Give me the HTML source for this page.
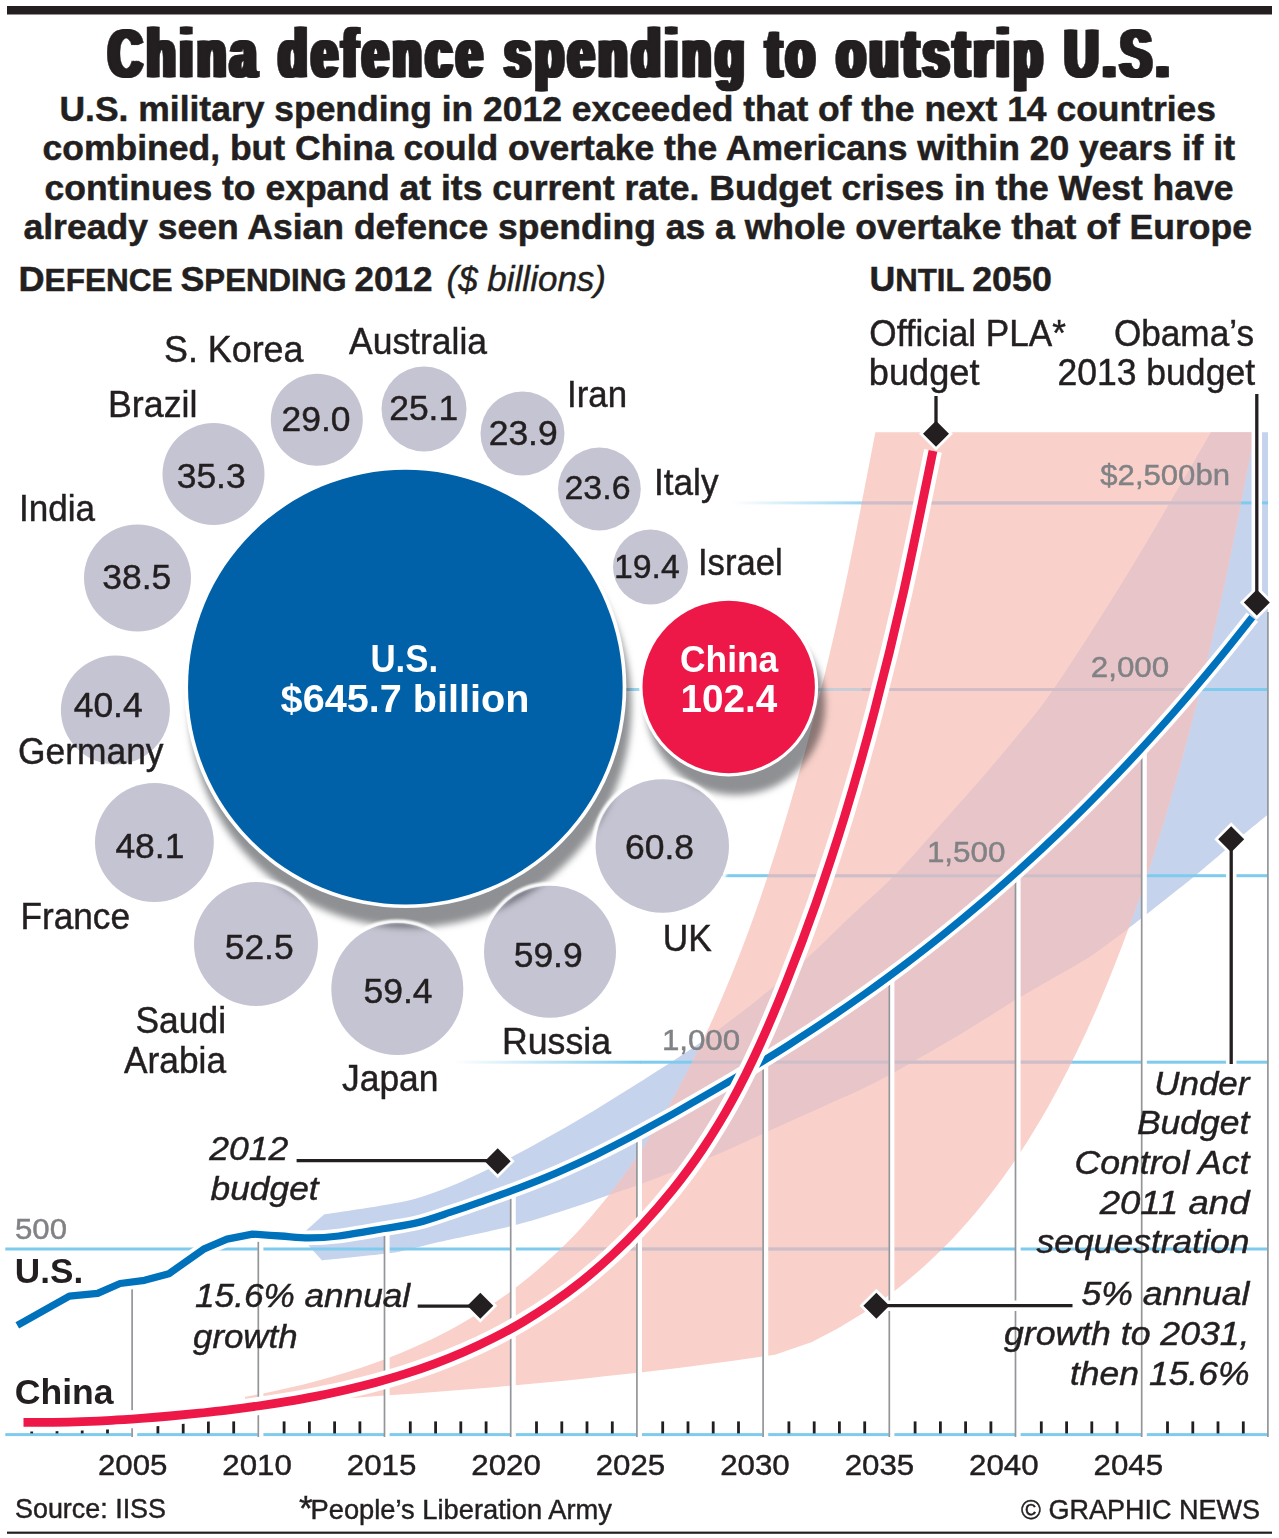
<!DOCTYPE html>
<html><head><meta charset="utf-8"><title>China defence spending to outstrip U.S.</title>
<style>html,body{margin:0;padding:0;background:#fff}svg{display:block}text{font-family:"Liberation Sans",sans-serif}</style>
</head><body>
<svg xmlns="http://www.w3.org/2000/svg" width="1279" height="1538" viewBox="0 0 1279 1538">
<defs>
<linearGradient id="fade" x1="0" x2="1" y1="0" y2="0"><stop offset="0" stop-color="#7fcbee" stop-opacity="0"/><stop offset="1" stop-color="#7fcbee" stop-opacity="1"/></linearGradient>
<clipPath id="cpk"><path d="M245,1396.8C249.8,1395.9 264.1,1393.2 273.7,1391.2C283.2,1389.2 292.8,1387 302.3,1384.7C311.9,1382.4 321.4,1379.9 331,1377.1C340.5,1374.4 350.1,1371.5 359.6,1368.3C369.2,1365.1 378.7,1361.8 388.3,1358.1C397.8,1354.4 407.4,1350.4 416.9,1346.1C426.5,1341.8 436,1337.2 445.6,1332.2C455.1,1327.2 464.7,1321.9 474.2,1316C483.8,1310.1 493.3,1303.9 502.9,1297.1C512.4,1290.3 522,1283 531.5,1275C541.1,1267.1 550.6,1258.6 560.2,1249.3C569.8,1240 579.3,1230.1 588.9,1219.2C598.4,1208.4 608,1196.8 617.5,1184.1C627.1,1171.5 636.6,1158 646.2,1143.1C655.7,1128.3 665.3,1112.5 674.8,1095.2C684.4,1077.8 693.9,1059.4 703.5,1039.1C713,1018.8 722.6,997.2 732.1,973.5C741.7,949.8 751.2,924.5 760.8,896.7C770.3,868.9 779.9,839.3 789.4,806.8C799,774.2 808.5,739.6 818.1,701.5C827.6,663.3 837.2,622.9 846.7,578C856.3,533.2 870.6,456.6 875.4,432.3L1254.8,432.3C1249.9,457 1235.1,534.6 1225.3,580.3C1215.4,626 1205.6,667.6 1195.8,706.6C1185.9,745.5 1176.1,780.9 1166.2,814.1C1156.4,847.3 1146.6,877.4 1136.7,905.7C1126.9,933.9 1117,959.6 1107.2,983.7C1097.4,1007.8 1087.5,1029.6 1077.7,1050.1C1067.8,1070.6 1058,1089.3 1048.2,1106.7C1038.3,1124.2 1028.5,1140.1 1018.6,1155C1008.8,1169.8 999,1183.3 989.1,1196C979.3,1208.7 969.4,1220.2 959.6,1231C949.8,1241.8 939.9,1251.6 930.1,1260.8C920.2,1270 910.4,1278.3 900.6,1286.2C890.7,1294 880.9,1301.1 871,1307.8C861.2,1314.5 851.4,1320.5 841.5,1326.2C831.7,1331.9 816.9,1339.3 812,1341.9L775,1354.7C768.7,1355.6 749.8,1358.4 737.1,1360.2C724.5,1361.9 711.9,1363.6 699.3,1365.2C686.7,1366.9 674,1368.4 661.4,1369.9C648.8,1371.5 636.2,1372.9 623.6,1374.3C611,1375.7 598.3,1377.1 585.7,1378.4C573.1,1379.7 560.5,1381 547.9,1382.2C535.2,1383.4 522.6,1384.6 510,1385.7C497.4,1386.8 484.8,1387.9 472.1,1389C459.5,1390 446.9,1391 434.3,1392C421.7,1393 409,1393.9 396.4,1394.8C383.8,1395.7 371.2,1396.6 358.6,1397.4C346,1398.3 333.3,1399.1 320.7,1399.9C308.1,1400.7 295.5,1401.4 282.9,1402.1C270.2,1402.9 251.3,1403.9 245,1404.3Z"/></clipPath>
<clipPath id="cbb"><path d="M300,1236L324,1214.4L324,1214.4C334.1,1212.8 367.9,1208.1 384.8,1205C401.7,1201.9 408.8,1201.2 425.2,1195.7C441.6,1190.2 459.4,1183.2 483,1171.7C506.6,1160.2 541.2,1141.2 566.7,1126.7C592.2,1112.2 615,1097.6 636,1084.5C657,1071.4 676.2,1059.1 692.5,1048C708.8,1036.9 720.2,1028.4 734,1018C747.8,1007.6 762.4,995.8 775,985.5C787.6,975.2 797,967.4 809.5,956C822,944.6 835.7,930.6 850,917C864.3,903.4 880.2,890.1 895.4,874.6C910.6,859.1 926.9,839.8 941,824C955.1,808.2 968.1,793.8 980.1,780C992.1,766.2 1000.9,756 1013,741C1025.2,726 1035.2,715.7 1053,690C1070.8,664.3 1100.2,617.9 1119.7,586.7C1139.2,555.5 1154.5,528.7 1169.7,503C1184.9,477.3 1204.1,444.1 1211,432.3L1268,432.3L1268,814.5C1263.3,818.3 1251.9,827.5 1240,837.5C1228.1,847.5 1207.5,865.5 1196.6,874.6C1185.7,883.7 1190.9,879.5 1174.8,892C1158.7,904.5 1120.8,935.1 1100,949.8C1079.2,964.5 1064.3,971.5 1050,980C1035.7,988.5 1029.4,991.5 1014.4,1000.6C999.4,1009.7 982.4,1021.2 960,1034.4C937.6,1047.6 902.1,1068.3 880,1080C857.9,1091.7 845.7,1096.2 827.6,1104.5C809.5,1112.8 790.2,1121.3 771.4,1129.8C752.6,1138.2 736.9,1146.1 715,1155.2C693.1,1164.3 657.7,1177.6 640,1184.2C622.3,1190.8 620.3,1191 608.9,1195C597.5,1199 586.9,1203 571.4,1208C555.9,1213 537.5,1219.4 515.6,1225C493.7,1230.6 458.2,1237.6 440,1241.8C421.8,1246 415.6,1248 406.4,1250C397.2,1252 398.9,1252.1 384.8,1253.8C370.7,1255.5 332.5,1259.3 322,1260.4L300,1236Z"/></clipPath>
<filter id="sh" x="-20%" y="-20%" width="150%" height="150%"><feGaussianBlur stdDeviation="3.8"/></filter>
<filter id="halo" x="-10%" y="-10%" width="120%" height="120%"><feGaussianBlur stdDeviation="0.9"/></filter>
</defs>
<rect width="1279" height="1538" fill="#fff"/>
<g fill="#231f20">
<rect x="7" y="6" width="1265" height="8.5" fill="#231f20"/>
<rect x="7" y="1531.6" width="1265" height="2.2" fill="#231f20"/>
<path d="M300,1236L324,1214.4L324,1214.4C334.1,1212.8 367.9,1208.1 384.8,1205C401.7,1201.9 408.8,1201.2 425.2,1195.7C441.6,1190.2 459.4,1183.2 483,1171.7C506.6,1160.2 541.2,1141.2 566.7,1126.7C592.2,1112.2 615,1097.6 636,1084.5C657,1071.4 676.2,1059.1 692.5,1048C708.8,1036.9 720.2,1028.4 734,1018C747.8,1007.6 762.4,995.8 775,985.5C787.6,975.2 797,967.4 809.5,956C822,944.6 835.7,930.6 850,917C864.3,903.4 880.2,890.1 895.4,874.6C910.6,859.1 926.9,839.8 941,824C955.1,808.2 968.1,793.8 980.1,780C992.1,766.2 1000.9,756 1013,741C1025.2,726 1035.2,715.7 1053,690C1070.8,664.3 1100.2,617.9 1119.7,586.7C1139.2,555.5 1154.5,528.7 1169.7,503C1184.9,477.3 1204.1,444.1 1211,432.3L1268,432.3L1268,814.5C1263.3,818.3 1251.9,827.5 1240,837.5C1228.1,847.5 1207.5,865.5 1196.6,874.6C1185.7,883.7 1190.9,879.5 1174.8,892C1158.7,904.5 1120.8,935.1 1100,949.8C1079.2,964.5 1064.3,971.5 1050,980C1035.7,988.5 1029.4,991.5 1014.4,1000.6C999.4,1009.7 982.4,1021.2 960,1034.4C937.6,1047.6 902.1,1068.3 880,1080C857.9,1091.7 845.7,1096.2 827.6,1104.5C809.5,1112.8 790.2,1121.3 771.4,1129.8C752.6,1138.2 736.9,1146.1 715,1155.2C693.1,1164.3 657.7,1177.6 640,1184.2C622.3,1190.8 620.3,1191 608.9,1195C597.5,1199 586.9,1203 571.4,1208C555.9,1213 537.5,1219.4 515.6,1225C493.7,1230.6 458.2,1237.6 440,1241.8C421.8,1246 415.6,1248 406.4,1250C397.2,1252 398.9,1252.1 384.8,1253.8C370.7,1255.5 332.5,1259.3 322,1260.4L300,1236Z" fill="#c6d3ec"/>
<path d="M245,1396.8C249.8,1395.9 264.1,1393.2 273.7,1391.2C283.2,1389.2 292.8,1387 302.3,1384.7C311.9,1382.4 321.4,1379.9 331,1377.1C340.5,1374.4 350.1,1371.5 359.6,1368.3C369.2,1365.1 378.7,1361.8 388.3,1358.1C397.8,1354.4 407.4,1350.4 416.9,1346.1C426.5,1341.8 436,1337.2 445.6,1332.2C455.1,1327.2 464.7,1321.9 474.2,1316C483.8,1310.1 493.3,1303.9 502.9,1297.1C512.4,1290.3 522,1283 531.5,1275C541.1,1267.1 550.6,1258.6 560.2,1249.3C569.8,1240 579.3,1230.1 588.9,1219.2C598.4,1208.4 608,1196.8 617.5,1184.1C627.1,1171.5 636.6,1158 646.2,1143.1C655.7,1128.3 665.3,1112.5 674.8,1095.2C684.4,1077.8 693.9,1059.4 703.5,1039.1C713,1018.8 722.6,997.2 732.1,973.5C741.7,949.8 751.2,924.5 760.8,896.7C770.3,868.9 779.9,839.3 789.4,806.8C799,774.2 808.5,739.6 818.1,701.5C827.6,663.3 837.2,622.9 846.7,578C856.3,533.2 870.6,456.6 875.4,432.3L1254.8,432.3C1249.9,457 1235.1,534.6 1225.3,580.3C1215.4,626 1205.6,667.6 1195.8,706.6C1185.9,745.5 1176.1,780.9 1166.2,814.1C1156.4,847.3 1146.6,877.4 1136.7,905.7C1126.9,933.9 1117,959.6 1107.2,983.7C1097.4,1007.8 1087.5,1029.6 1077.7,1050.1C1067.8,1070.6 1058,1089.3 1048.2,1106.7C1038.3,1124.2 1028.5,1140.1 1018.6,1155C1008.8,1169.8 999,1183.3 989.1,1196C979.3,1208.7 969.4,1220.2 959.6,1231C949.8,1241.8 939.9,1251.6 930.1,1260.8C920.2,1270 910.4,1278.3 900.6,1286.2C890.7,1294 880.9,1301.1 871,1307.8C861.2,1314.5 851.4,1320.5 841.5,1326.2C831.7,1331.9 816.9,1339.3 812,1341.9L775,1354.7C768.7,1355.6 749.8,1358.4 737.1,1360.2C724.5,1361.9 711.9,1363.6 699.3,1365.2C686.7,1366.9 674,1368.4 661.4,1369.9C648.8,1371.5 636.2,1372.9 623.6,1374.3C611,1375.7 598.3,1377.1 585.7,1378.4C573.1,1379.7 560.5,1381 547.9,1382.2C535.2,1383.4 522.6,1384.6 510,1385.7C497.4,1386.8 484.8,1387.9 472.1,1389C459.5,1390 446.9,1391 434.3,1392C421.7,1393 409,1393.9 396.4,1394.8C383.8,1395.7 371.2,1396.6 358.6,1397.4C346,1398.3 333.3,1399.1 320.7,1399.9C308.1,1400.7 295.5,1401.4 282.9,1402.1C270.2,1402.9 251.3,1403.9 245,1404.3Z" fill="#f9d1ca"/>
<path d="M300,1236L324,1214.4L324,1214.4C334.1,1212.8 367.9,1208.1 384.8,1205C401.7,1201.9 408.8,1201.2 425.2,1195.7C441.6,1190.2 459.4,1183.2 483,1171.7C506.6,1160.2 541.2,1141.2 566.7,1126.7C592.2,1112.2 615,1097.6 636,1084.5C657,1071.4 676.2,1059.1 692.5,1048C708.8,1036.9 720.2,1028.4 734,1018C747.8,1007.6 762.4,995.8 775,985.5C787.6,975.2 797,967.4 809.5,956C822,944.6 835.7,930.6 850,917C864.3,903.4 880.2,890.1 895.4,874.6C910.6,859.1 926.9,839.8 941,824C955.1,808.2 968.1,793.8 980.1,780C992.1,766.2 1000.9,756 1013,741C1025.2,726 1035.2,715.7 1053,690C1070.8,664.3 1100.2,617.9 1119.7,586.7C1139.2,555.5 1154.5,528.7 1169.7,503C1184.9,477.3 1204.1,444.1 1211,432.3L1268,432.3L1268,814.5C1263.3,818.3 1251.9,827.5 1240,837.5C1228.1,847.5 1207.5,865.5 1196.6,874.6C1185.7,883.7 1190.9,879.5 1174.8,892C1158.7,904.5 1120.8,935.1 1100,949.8C1079.2,964.5 1064.3,971.5 1050,980C1035.7,988.5 1029.4,991.5 1014.4,1000.6C999.4,1009.7 982.4,1021.2 960,1034.4C937.6,1047.6 902.1,1068.3 880,1080C857.9,1091.7 845.7,1096.2 827.6,1104.5C809.5,1112.8 790.2,1121.3 771.4,1129.8C752.6,1138.2 736.9,1146.1 715,1155.2C693.1,1164.3 657.7,1177.6 640,1184.2C622.3,1190.8 620.3,1191 608.9,1195C597.5,1199 586.9,1203 571.4,1208C555.9,1213 537.5,1219.4 515.6,1225C493.7,1230.6 458.2,1237.6 440,1241.8C421.8,1246 415.6,1248 406.4,1250C397.2,1252 398.9,1252.1 384.8,1253.8C370.7,1255.5 332.5,1259.3 322,1260.4L300,1236Z" fill="#e8c5c9" clip-path="url(#cpk)"/>
<g fill="#7fcbee"><rect x="5.3" y="1247.5" width="1262.7" height="3"/><rect x="640" y="1060.7" width="628" height="3"/><rect x="722" y="874.2" width="546" height="3"/><rect x="862" y="688" width="406" height="3"/><rect x="900" y="501.4" width="368" height="3"/></g>
<rect x="600" y="688" width="50" height="3" fill="#7fcbee" opacity="0.75"/>
<rect x="800" y="688" width="63" height="3" fill="#7fcbee" opacity="0.4"/>
<rect x="453" y="1060.7" width="187.5" height="3" fill="url(#fade)"/>
<rect x="732" y="501.4" width="168.5" height="3" fill="url(#fade)"/>
<g clip-path="url(#cpk)"><g fill="#f9d1ca"><rect x="5.3" y="1247.5" width="1262.7" height="3"/><rect x="453" y="1060.7" width="815" height="3"/><rect x="722" y="874.2" width="546" height="3"/><rect x="862" y="688" width="406" height="3"/><rect x="732" y="501.4" width="536" height="3"/></g><g fill="#d2bdc6"><rect x="5.3" y="1247.5" width="1262.7" height="3"/><rect x="453" y="1060.7" width="815" height="3"/><rect x="722" y="874.2" width="546" height="3"/><rect x="862" y="688" width="406" height="3"/><rect x="732" y="501.4" width="536" height="3"/></g></g>
<rect x="5.3" y="1433.1" width="1264" height="3" fill="#7fcbee"/>
<g stroke="#231f20" stroke-width="2.8"><line x1="31.7" x2="31.7" y1="1421.4" y2="1433.4"/><line x1="57" x2="57" y1="1421.4" y2="1433.4"/><line x1="82.2" x2="82.2" y1="1421.4" y2="1433.4"/><line x1="107.5" x2="107.5" y1="1421.4" y2="1433.4"/><line x1="157.9" x2="157.9" y1="1421.4" y2="1433.4"/><line x1="183.2" x2="183.2" y1="1421.4" y2="1433.4"/><line x1="208.4" x2="208.4" y1="1421.4" y2="1433.4"/><line x1="233.7" x2="233.7" y1="1421.4" y2="1433.4"/><line x1="284.1" x2="284.1" y1="1421.4" y2="1433.4"/><line x1="309.4" x2="309.4" y1="1421.4" y2="1433.4"/><line x1="334.6" x2="334.6" y1="1421.4" y2="1433.4"/><line x1="359.9" x2="359.9" y1="1421.4" y2="1433.4"/><line x1="410.3" x2="410.3" y1="1421.4" y2="1433.4"/><line x1="435.6" x2="435.6" y1="1421.4" y2="1433.4"/><line x1="460.8" x2="460.8" y1="1421.4" y2="1433.4"/><line x1="486.1" x2="486.1" y1="1421.4" y2="1433.4"/><line x1="536.5" x2="536.5" y1="1421.4" y2="1433.4"/><line x1="561.8" x2="561.8" y1="1421.4" y2="1433.4"/><line x1="587" x2="587" y1="1421.4" y2="1433.4"/><line x1="612.3" x2="612.3" y1="1421.4" y2="1433.4"/><line x1="662.7" x2="662.7" y1="1421.4" y2="1433.4"/><line x1="688" x2="688" y1="1421.4" y2="1433.4"/><line x1="713.2" x2="713.2" y1="1421.4" y2="1433.4"/><line x1="738.5" x2="738.5" y1="1421.4" y2="1433.4"/><line x1="788.9" x2="788.9" y1="1421.4" y2="1433.4"/><line x1="814.2" x2="814.2" y1="1421.4" y2="1433.4"/><line x1="839.4" x2="839.4" y1="1421.4" y2="1433.4"/><line x1="864.7" x2="864.7" y1="1421.4" y2="1433.4"/><line x1="915.1" x2="915.1" y1="1421.4" y2="1433.4"/><line x1="940.4" x2="940.4" y1="1421.4" y2="1433.4"/><line x1="965.6" x2="965.6" y1="1421.4" y2="1433.4"/><line x1="990.9" x2="990.9" y1="1421.4" y2="1433.4"/><line x1="1041.3" x2="1041.3" y1="1421.4" y2="1433.4"/><line x1="1066.6" x2="1066.6" y1="1421.4" y2="1433.4"/><line x1="1091.8" x2="1091.8" y1="1421.4" y2="1433.4"/><line x1="1117.1" x2="1117.1" y1="1421.4" y2="1433.4"/><line x1="1167.5" x2="1167.5" y1="1421.4" y2="1433.4"/><line x1="1192.8" x2="1192.8" y1="1421.4" y2="1433.4"/><line x1="1218" x2="1218" y1="1421.4" y2="1433.4"/><line x1="1243.3" x2="1243.3" y1="1421.4" y2="1433.4"/></g>
<line x1="134.4" x2="134.4" y1="1286.9" y2="1437" stroke="#fff" stroke-width="5.6"/><line x1="132.1" x2="132.1" y1="1286.9" y2="1437" stroke="#939598" stroke-width="1.7"/><line x1="260.6" x2="260.6" y1="1239.5" y2="1437" stroke="#fff" stroke-width="5.6"/><line x1="258.3" x2="258.3" y1="1239.5" y2="1437" stroke="#939598" stroke-width="1.7"/><line x1="386.8" x2="386.8" y1="1233.5" y2="1437" stroke="#fff" stroke-width="5.6"/><line x1="384.5" x2="384.5" y1="1233.5" y2="1437" stroke="#939598" stroke-width="1.7"/><line x1="513" x2="513" y1="1196" y2="1437" stroke="#fff" stroke-width="5.6"/><line x1="510.7" x2="510.7" y1="1196" y2="1437" stroke="#939598" stroke-width="1.7"/><line x1="639.2" x2="639.2" y1="1138.7" y2="1437" stroke="#fff" stroke-width="5.6"/><line x1="636.9" x2="636.9" y1="1138.7" y2="1437" stroke="#939598" stroke-width="1.7"/><line x1="765.4" x2="765.4" y1="1065.9" y2="1437" stroke="#fff" stroke-width="5.6"/><line x1="763.1" x2="763.1" y1="1065.9" y2="1437" stroke="#939598" stroke-width="1.7"/><line x1="891.6" x2="891.6" y1="980.8" y2="1437" stroke="#fff" stroke-width="5.6"/><line x1="889.3" x2="889.3" y1="980.8" y2="1437" stroke="#939598" stroke-width="1.7"/><line x1="1017.8" x2="1017.8" y1="878" y2="1437" stroke="#fff" stroke-width="5.6"/><line x1="1015.5" x2="1015.5" y1="878" y2="1437" stroke="#939598" stroke-width="1.7"/><line x1="1144" x2="1144" y1="753" y2="1437" stroke="#fff" stroke-width="5.6"/><line x1="1141.7" x2="1141.7" y1="753" y2="1437" stroke="#939598" stroke-width="1.7"/><line x1="1270.2" x2="1270.2" y1="612" y2="1437" stroke="#fff" stroke-width="5.6"/><line x1="1267.9" x2="1267.9" y1="612" y2="1437" stroke="#939598" stroke-width="1.7"/>
<path d="M17.3,1325.4L69.4,1296.1L97.6,1293.3L120.1,1283.5L144.5,1280.3L168.9,1273.7L203.6,1249.2L227,1239.2L252.5,1234.1L252.5,1234.1C257.2,1234.4 271.3,1235.4 280.7,1236C290.1,1236.6 299.1,1237.9 308.8,1237.9C318.5,1237.9 326.2,1237.6 338.9,1236C351.6,1234.4 371.7,1230.7 384.8,1228.5C397.9,1226.3 406.8,1225.3 417.7,1222.6C428.6,1219.9 439.6,1215.9 450,1212.4C460.4,1209 468.6,1206.2 480,1202.1C491.4,1198 505.7,1193 518.6,1188.1C531.5,1183.2 544.4,1178.1 557.2,1172.6C570.1,1167 583,1161.1 595.8,1154.9C608.7,1148.6 621.6,1141.9 634.5,1135.1C647.3,1128.2 660.2,1121.1 673.1,1113.9C685.9,1106.6 698.8,1099.2 711.7,1091.7C724.6,1084.2 737.4,1076.6 750.3,1068.8C763.2,1061 776,1053 788.9,1044.8C801.8,1036.6 814.7,1028.3 827.5,1019.6C840.4,1010.9 853.3,1002 866.1,992.9C879,983.7 891.9,974.2 904.8,964.5C917.6,954.7 930.5,944.7 943.4,934.3C956.3,924 969.1,913.4 982,902.4C994.9,891.4 1007.7,880.1 1020.6,868.5C1033.5,856.8 1046.4,844.8 1059.2,832.5C1072.1,820.1 1085,807.4 1097.8,794.3C1110.7,781.2 1123.6,767.7 1136.5,753.8C1149.3,739.9 1162.2,725.7 1175.1,710.9C1187.9,696.2 1200.8,681.1 1213.7,665.4C1226.6,649.8 1245.9,625.3 1252.3,617.2" fill="none" stroke="#fff" stroke-width="14.8" stroke-linejoin="round"/>
<path d="M17.3,1325.4L69.4,1296.1L97.6,1293.3L120.1,1283.5L144.5,1280.3L168.9,1273.7L203.6,1249.2L227,1239.2L252.5,1234.1L252.5,1234.1C257.2,1234.4 271.3,1235.4 280.7,1236C290.1,1236.6 299.1,1237.9 308.8,1237.9C318.5,1237.9 326.2,1237.6 338.9,1236C351.6,1234.4 371.7,1230.7 384.8,1228.5C397.9,1226.3 406.8,1225.3 417.7,1222.6C428.6,1219.9 439.6,1215.9 450,1212.4C460.4,1209 468.6,1206.2 480,1202.1C491.4,1198 505.7,1193 518.6,1188.1C531.5,1183.2 544.4,1178.1 557.2,1172.6C570.1,1167 583,1161.1 595.8,1154.9C608.7,1148.6 621.6,1141.9 634.5,1135.1C647.3,1128.2 660.2,1121.1 673.1,1113.9C685.9,1106.6 698.8,1099.2 711.7,1091.7C724.6,1084.2 737.4,1076.6 750.3,1068.8C763.2,1061 776,1053 788.9,1044.8C801.8,1036.6 814.7,1028.3 827.5,1019.6C840.4,1010.9 853.3,1002 866.1,992.9C879,983.7 891.9,974.2 904.8,964.5C917.6,954.7 930.5,944.7 943.4,934.3C956.3,924 969.1,913.4 982,902.4C994.9,891.4 1007.7,880.1 1020.6,868.5C1033.5,856.8 1046.4,844.8 1059.2,832.5C1072.1,820.1 1085,807.4 1097.8,794.3C1110.7,781.2 1123.6,767.7 1136.5,753.8C1149.3,739.9 1162.2,725.7 1175.1,710.9C1187.9,696.2 1200.8,681.1 1213.7,665.4C1226.6,649.8 1245.9,625.3 1252.3,617.2" fill="none" stroke="#0072bc" stroke-width="7.3" stroke-linejoin="round"/>
<path d="M23.5,1422.4C28.4,1422.4 43.1,1422.5 52.9,1422.3C62.6,1422.2 72.4,1422 82.2,1421.6C92,1421.3 101.7,1420.9 111.5,1420.3C121.3,1419.8 131.1,1419.1 140.9,1418.4C150.6,1417.7 160.4,1416.9 170.2,1416C180,1415.1 189.8,1414.2 199.5,1413.2C209.3,1412.1 219.1,1411.1 228.9,1409.9C238.7,1408.7 248.5,1407.4 258.2,1406C268,1404.6 277.8,1403.1 287.6,1401.4C297.4,1399.8 307.1,1398 316.9,1396.1C326.7,1394.1 336.5,1392.1 346.3,1389.8C356.1,1387.5 365.8,1385.1 375.6,1382.5C385.4,1379.8 395.2,1377 405,1373.9C414.8,1370.8 424.6,1367.4 434.3,1363.8C444.1,1360.2 453.9,1356.3 463.7,1352C473.5,1347.8 483.3,1343.2 493.1,1338.2C503,1333.2 512.8,1327.9 522.6,1322.1C532.4,1316.3 542.3,1310 552.2,1303.2C562,1296.4 571.9,1289.1 581.9,1281.2C591.8,1273.2 601.8,1264.7 611.8,1255.4C621.8,1246.1 631.9,1236.1 642,1225.2C652.1,1214.4 662.3,1202.8 672.5,1190.1C682.6,1177.4 692.8,1163.8 702.7,1149C712.6,1134.1 722.4,1118.3 731.9,1101C741.4,1083.7 750.5,1065.3 759.7,1045.1C768.9,1024.9 777.9,1003.4 787.2,979.8C796.6,956.3 806.1,931.2 815.8,903.7C825.4,876.2 835.2,847 845,815C854.7,783 864.5,748.9 874.3,711.6C884.1,674.3 893.9,634.6 903.7,591.2C913.4,547.7 928.1,474.3 933,450.9" fill="none" stroke="#fff" stroke-width="18"/>
<path d="M23.5,1422.4C28.4,1422.4 43.1,1422.5 52.9,1422.3C62.6,1422.2 72.4,1422 82.2,1421.6C92,1421.3 101.7,1420.9 111.5,1420.3C121.3,1419.8 131.1,1419.1 140.9,1418.4C150.6,1417.7 160.4,1416.9 170.2,1416C180,1415.1 189.8,1414.2 199.5,1413.2C209.3,1412.1 219.1,1411.1 228.9,1409.9C238.7,1408.7 248.5,1407.4 258.2,1406C268,1404.6 277.8,1403.1 287.6,1401.4C297.4,1399.8 307.1,1398 316.9,1396.1C326.7,1394.1 336.5,1392.1 346.3,1389.8C356.1,1387.5 365.8,1385.1 375.6,1382.5C385.4,1379.8 395.2,1377 405,1373.9C414.8,1370.8 424.6,1367.4 434.3,1363.8C444.1,1360.2 453.9,1356.3 463.7,1352C473.5,1347.8 483.3,1343.2 493.1,1338.2C503,1333.2 512.8,1327.9 522.6,1322.1C532.4,1316.3 542.3,1310 552.2,1303.2C562,1296.4 571.9,1289.1 581.9,1281.2C591.8,1273.2 601.8,1264.7 611.8,1255.4C621.8,1246.1 631.9,1236.1 642,1225.2C652.1,1214.4 662.3,1202.8 672.5,1190.1C682.6,1177.4 692.8,1163.8 702.7,1149C712.6,1134.1 722.4,1118.3 731.9,1101C741.4,1083.7 750.5,1065.3 759.7,1045.1C768.9,1024.9 777.9,1003.4 787.2,979.8C796.6,956.3 806.1,931.2 815.8,903.7C825.4,876.2 835.2,847 845,815C854.7,783 864.5,748.9 874.3,711.6C884.1,674.3 893.9,634.6 903.7,591.2C913.4,547.7 928.1,474.3 933,450.9" fill="none" stroke="#ed1848" stroke-width="8.8"/>
<g stroke="#fff" fill="#fff"><line x1="936" y1="396" x2="936" y2="433" stroke-width="10.5"/><path d="M936,420.8L949,433.8L936,446.8L923,433.8Z" stroke-width="5.6"/><line x1="1256.8" y1="394" x2="1256.8" y2="602" stroke-width="10.5"/><path d="M1256.8,589.6L1269.8,602.6L1256.8,615.6L1243.8,602.6Z" stroke-width="5.6"/><line x1="1231.2" y1="839" x2="1231.2" y2="1064" stroke-width="10.5"/><path d="M1231.2,826.2L1244.2,839.2L1231.2,852.2L1218.2,839.2Z" stroke-width="5.6"/><line x1="296.6" y1="1160.6" x2="497" y2="1160.6" stroke-width="10.5"/><path d="M497.7,1148.2L510.7,1161.2L497.7,1174.2L484.7,1161.2Z" stroke-width="5.6"/><line x1="417.7" y1="1306.2" x2="481" y2="1306.2" stroke-width="10.5"/><path d="M480.3,1292.7L493.3,1305.7L480.3,1318.7L467.3,1305.7Z" stroke-width="5.6"/><line x1="876" y1="1305.7" x2="1072.5" y2="1305.7" stroke-width="10.5"/><path d="M876.4,1292.7L889.4,1305.7L876.4,1318.7L863.4,1305.7Z" stroke-width="5.6"/></g><g stroke="#231f20" stroke-width="3.3"><line x1="936" y1="396" x2="936" y2="433"/><line x1="1256.8" y1="394" x2="1256.8" y2="602"/><line x1="1231.2" y1="839" x2="1231.2" y2="1064"/><line x1="296.6" y1="1160.6" x2="497" y2="1160.6"/><line x1="417.7" y1="1306.2" x2="481" y2="1306.2"/><line x1="876" y1="1305.7" x2="1072.5" y2="1305.7"/></g><g><path d="M936,420.8L949,433.8L936,446.8L923,433.8Z"/><path d="M1256.8,589.6L1269.8,602.6L1256.8,615.6L1243.8,602.6Z"/><path d="M1231.2,826.2L1244.2,839.2L1231.2,852.2L1218.2,839.2Z"/><path d="M497.7,1148.2L510.7,1161.2L497.7,1174.2L484.7,1161.2Z"/><path d="M480.3,1292.7L493.3,1305.7L480.3,1318.7L467.3,1305.7Z"/><path d="M876.4,1292.7L889.4,1305.7L876.4,1318.7L863.4,1305.7Z"/></g>
<g style="mix-blend-mode:multiply">
<circle cx="410.4" cy="706.6" r="221" fill="#8e9093" filter="url(#sh)"/>
<circle cx="735.7" cy="705.5" r="89.5" fill="#8e9093" filter="url(#sh)"/>
</g>
<g fill="none" stroke="#fff" stroke-width="4" filter="url(#halo)"><circle cx="316.8" cy="419.8" r="47.6"/><circle cx="424" cy="409" r="44.1"/><circle cx="522.5" cy="433.5" r="43.6"/><circle cx="599.4" cy="489" r="43"/><circle cx="650.5" cy="567" r="39.1"/><circle cx="213.5" cy="474" r="52.6"/><circle cx="137.5" cy="578" r="55.1"/><circle cx="115.4" cy="710" r="56.1"/><circle cx="154.4" cy="842.5" r="61"/><circle cx="256" cy="944" r="63.6"/><circle cx="397.3" cy="989" r="67.6"/><circle cx="550" cy="951.7" r="67.6"/><circle cx="662.3" cy="846" r="68.3"/></g>
<g fill="#c5c4d2" style="mix-blend-mode:multiply"><circle cx="316.8" cy="419.8" r="46"/><circle cx="424" cy="409" r="42.5"/><circle cx="522.5" cy="433.5" r="42"/><circle cx="599.4" cy="489" r="41.4"/><circle cx="650.5" cy="567" r="37.5"/><circle cx="213.5" cy="474" r="51"/><circle cx="137.5" cy="578" r="53.5"/><circle cx="115.4" cy="710" r="54.5"/><circle cx="154.4" cy="842.5" r="59.4"/><circle cx="256" cy="944" r="62"/><circle cx="397.3" cy="989" r="66"/><circle cx="550" cy="951.7" r="66"/><circle cx="662.3" cy="846" r="66.7"/></g>
<circle cx="405.35" cy="687.1" r="221" fill="#fff"/>
<circle cx="405.35" cy="687.1" r="217.3" fill="#0061a8"/>
<circle cx="728.7" cy="687" r="89.5" fill="#fff"/>
<circle cx="728.7" cy="687" r="86.2" fill="#ed1848"/>
<text x="316" y="431" font-size="35" text-anchor="middle" textLength="69" lengthAdjust="spacingAndGlyphs" stroke="#231f20" stroke-width="0.45">29.0</text>
<text x="423.7" y="420" font-size="35" text-anchor="middle" textLength="69" lengthAdjust="spacingAndGlyphs" stroke="#231f20" stroke-width="0.45">25.1</text>
<text x="523.2" y="444.5" font-size="35" text-anchor="middle" textLength="69" lengthAdjust="spacingAndGlyphs" stroke="#231f20" stroke-width="0.45">23.9</text>
<text x="597.5" y="498.6" font-size="33.5" text-anchor="middle" textLength="66" lengthAdjust="spacingAndGlyphs" stroke="#231f20" stroke-width="0.45">23.6</text>
<text x="646.9" y="577.5" font-size="33.7" text-anchor="middle" textLength="65.8" lengthAdjust="spacingAndGlyphs" stroke="#231f20" stroke-width="0.45">19.4</text>
<text x="211.2" y="487.7" font-size="35" text-anchor="middle" textLength="69" lengthAdjust="spacingAndGlyphs" stroke="#231f20" stroke-width="0.45">35.3</text>
<text x="136.8" y="588.7" font-size="35" text-anchor="middle" textLength="69" lengthAdjust="spacingAndGlyphs" stroke="#231f20" stroke-width="0.45">38.5</text>
<text x="108.2" y="717" font-size="35" text-anchor="middle" textLength="69" lengthAdjust="spacingAndGlyphs" stroke="#231f20" stroke-width="0.45">40.4</text>
<text x="149.9" y="857.5" font-size="35" text-anchor="middle" textLength="69" lengthAdjust="spacingAndGlyphs" stroke="#231f20" stroke-width="0.45">48.1</text>
<text x="259.2" y="958.7" font-size="35" text-anchor="middle" textLength="69" lengthAdjust="spacingAndGlyphs" stroke="#231f20" stroke-width="0.45">52.5</text>
<text x="398" y="1002.5" font-size="35" text-anchor="middle" textLength="69" lengthAdjust="spacingAndGlyphs" stroke="#231f20" stroke-width="0.45">59.4</text>
<text x="548.2" y="967" font-size="35" text-anchor="middle" textLength="69" lengthAdjust="spacingAndGlyphs" stroke="#231f20" stroke-width="0.45">59.9</text>
<text x="659.6" y="859.3" font-size="35" text-anchor="middle" textLength="69" lengthAdjust="spacingAndGlyphs" stroke="#231f20" stroke-width="0.45">60.8</text>
<text x="370.4" y="672.2" font-size="38" font-weight="bold" fill="#fff" textLength="67.8" lengthAdjust="spacingAndGlyphs">U.S.</text>
<text x="280.6" y="711.9" font-size="38" font-weight="bold" fill="#fff" textLength="248.9" lengthAdjust="spacingAndGlyphs">$645.7 billion</text>
<text x="680" y="672" font-size="36" font-weight="bold" fill="#fff" textLength="98.3" lengthAdjust="spacingAndGlyphs">China</text>
<text x="680.4" y="711.9" font-size="38.4" font-weight="bold" fill="#fff" textLength="96.8" lengthAdjust="spacingAndGlyphs">102.4</text>
<text x="164" y="362" font-size="36" textLength="139.5" lengthAdjust="spacingAndGlyphs" stroke="#231f20" stroke-width="0.45">S. Korea</text>
<text x="349" y="354" font-size="36" textLength="138" lengthAdjust="spacingAndGlyphs" stroke="#231f20" stroke-width="0.45">Australia</text>
<text x="567" y="406.5" font-size="36" textLength="60" lengthAdjust="spacingAndGlyphs" stroke="#231f20" stroke-width="0.45">Iran</text>
<text x="108" y="416.7" font-size="36" textLength="89.5" lengthAdjust="spacingAndGlyphs" stroke="#231f20" stroke-width="0.45">Brazil</text>
<text x="19" y="521" font-size="36" textLength="76" lengthAdjust="spacingAndGlyphs" stroke="#231f20" stroke-width="0.45">India</text>
<text x="18" y="764.3" font-size="36" textLength="145.5" lengthAdjust="spacingAndGlyphs" stroke="#231f20" stroke-width="0.45">Germany</text>
<text x="20.5" y="928.5" font-size="36" textLength="109.5" lengthAdjust="spacingAndGlyphs" stroke="#231f20" stroke-width="0.45">France</text>
<text x="135.5" y="1032.5" font-size="36" textLength="90.5" lengthAdjust="spacingAndGlyphs" stroke="#231f20" stroke-width="0.45">Saudi</text>
<text x="124" y="1072.5" font-size="36" textLength="102" lengthAdjust="spacingAndGlyphs" stroke="#231f20" stroke-width="0.45">Arabia</text>
<text x="342" y="1091" font-size="36" textLength="96.5" lengthAdjust="spacingAndGlyphs" stroke="#231f20" stroke-width="0.45">Japan</text>
<text x="502" y="1054" font-size="36" textLength="109" lengthAdjust="spacingAndGlyphs" stroke="#231f20" stroke-width="0.45">Russia</text>
<text x="662.7" y="951" font-size="36" textLength="49" lengthAdjust="spacingAndGlyphs" stroke="#231f20" stroke-width="0.45">UK</text>
<text x="654" y="494.5" font-size="36" textLength="64.5" lengthAdjust="spacingAndGlyphs" stroke="#231f20" stroke-width="0.45">Italy</text>
<text x="698" y="575" font-size="36" textLength="84.7" lengthAdjust="spacingAndGlyphs" stroke="#231f20" stroke-width="0.45">Israel</text>
<text x="1100.3" y="485" font-size="30.4" fill="#808285" textLength="129.7" lengthAdjust="spacingAndGlyphs" stroke="#808285" stroke-width="0.45">$2,500bn</text>
<text x="1090.8" y="676.9" font-size="30.4" fill="#808285" textLength="78.4" lengthAdjust="spacingAndGlyphs" stroke="#808285" stroke-width="0.45">2,000</text>
<text x="926.9" y="862" font-size="30.4" fill="#808285" textLength="78.6" lengthAdjust="spacingAndGlyphs" stroke="#808285" stroke-width="0.45">1,500</text>
<text x="661.9" y="1049.7" font-size="30.4" fill="#808285" textLength="78.2" lengthAdjust="spacingAndGlyphs" stroke="#808285" stroke-width="0.45">1,000</text>
<text x="15" y="1239.4" font-size="30.4" fill="#808285" textLength="52" lengthAdjust="spacingAndGlyphs" stroke="#808285" stroke-width="0.45">500</text>
<text x="132.7" y="1475" font-size="30.4" text-anchor="middle" textLength="69.5" lengthAdjust="spacingAndGlyphs" stroke="#231f20" stroke-width="0.45">2005</text>
<text x="257.1" y="1475" font-size="30.4" text-anchor="middle" textLength="69.5" lengthAdjust="spacingAndGlyphs" stroke="#231f20" stroke-width="0.45">2010</text>
<text x="381.6" y="1475" font-size="30.4" text-anchor="middle" textLength="69.5" lengthAdjust="spacingAndGlyphs" stroke="#231f20" stroke-width="0.45">2015</text>
<text x="506.1" y="1475" font-size="30.4" text-anchor="middle" textLength="69.5" lengthAdjust="spacingAndGlyphs" stroke="#231f20" stroke-width="0.45">2020</text>
<text x="630.5" y="1475" font-size="30.4" text-anchor="middle" textLength="69.5" lengthAdjust="spacingAndGlyphs" stroke="#231f20" stroke-width="0.45">2025</text>
<text x="755" y="1475" font-size="30.4" text-anchor="middle" textLength="69.5" lengthAdjust="spacingAndGlyphs" stroke="#231f20" stroke-width="0.45">2030</text>
<text x="879.4" y="1475" font-size="30.4" text-anchor="middle" textLength="69.5" lengthAdjust="spacingAndGlyphs" stroke="#231f20" stroke-width="0.45">2035</text>
<text x="1003.8" y="1475" font-size="30.4" text-anchor="middle" textLength="69.5" lengthAdjust="spacingAndGlyphs" stroke="#231f20" stroke-width="0.45">2040</text>
<text x="1128.3" y="1475" font-size="30.4" text-anchor="middle" textLength="69.5" lengthAdjust="spacingAndGlyphs" stroke="#231f20" stroke-width="0.45">2045</text>
<text x="869.3" y="345.8" font-size="36" textLength="196.7" lengthAdjust="spacingAndGlyphs" stroke="#231f20" stroke-width="0.45">Official PLA*</text>
<text x="868.8" y="385.2" font-size="36" textLength="110.7" lengthAdjust="spacingAndGlyphs" stroke="#231f20" stroke-width="0.45">budget</text>
<text x="1113.9" y="345.8" font-size="36" textLength="140.1" lengthAdjust="spacingAndGlyphs" stroke="#231f20" stroke-width="0.45">Obama’s</text>
<text x="1057.5" y="385.2" font-size="36" textLength="197.5" lengthAdjust="spacingAndGlyphs" stroke="#231f20" stroke-width="0.45">2013 budget</text>
<text x="1154.2" y="1094.5" font-size="33" font-style="italic" textLength="95.3" lengthAdjust="spacingAndGlyphs" stroke="#231f20" stroke-width="0.45">Under</text>
<text x="1136.9" y="1134.2" font-size="33" font-style="italic" textLength="112.6" lengthAdjust="spacingAndGlyphs" stroke="#231f20" stroke-width="0.45">Budget</text>
<text x="1074.4" y="1174.2" font-size="33" font-style="italic" textLength="175.1" lengthAdjust="spacingAndGlyphs" stroke="#231f20" stroke-width="0.45">Control Act</text>
<text x="1099.7" y="1213.6" font-size="33" font-style="italic" textLength="149.8" lengthAdjust="spacingAndGlyphs" stroke="#231f20" stroke-width="0.45">2011 and</text>
<text x="1036.5" y="1253.2" font-size="33" font-style="italic" textLength="213" lengthAdjust="spacingAndGlyphs" stroke="#231f20" stroke-width="0.45">sequestration</text>
<text x="1081.5" y="1305" font-size="33" font-style="italic" textLength="168" lengthAdjust="spacingAndGlyphs" stroke="#231f20" stroke-width="0.45">5% annual</text>
<text x="1004" y="1345" font-size="33" font-style="italic" textLength="245.5" lengthAdjust="spacingAndGlyphs" stroke="#231f20" stroke-width="0.45">growth to 2031,</text>
<text x="1070" y="1384.5" font-size="33" font-style="italic" textLength="179.5" lengthAdjust="spacingAndGlyphs" stroke="#231f20" stroke-width="0.45">then 15.6%</text>
<text x="209.3" y="1160" font-size="33" font-style="italic" textLength="79" lengthAdjust="spacingAndGlyphs" stroke="#231f20" stroke-width="0.45">2012</text>
<text x="210.6" y="1200.4" font-size="33" font-style="italic" textLength="108" lengthAdjust="spacingAndGlyphs" stroke="#231f20" stroke-width="0.45">budget</text>
<text x="195" y="1307.3" font-size="33" font-style="italic" textLength="215.2" lengthAdjust="spacingAndGlyphs" stroke="#231f20" stroke-width="0.45">15.6% annual</text>
<text x="193" y="1347.7" font-size="33" font-style="italic" textLength="104.6" lengthAdjust="spacingAndGlyphs" stroke="#231f20" stroke-width="0.45">growth</text>
<text x="14.8" y="1283" font-size="35.5" font-weight="bold" textLength="68.4" lengthAdjust="spacingAndGlyphs">U.S.</text>
<text x="14.8" y="1404.2" font-size="35.5" font-weight="bold" textLength="98.8" lengthAdjust="spacingAndGlyphs">China</text>
<text x="15" y="1518" font-size="27.6" textLength="151" lengthAdjust="spacingAndGlyphs" stroke="#231f20" stroke-width="0.45">Source: IISS</text>
<text x="299" y="1520" font-size="35" stroke="#231f20" stroke-width="0.45">*</text>
<text x="310.5" y="1519" font-size="27.6" textLength="301.5" lengthAdjust="spacingAndGlyphs" stroke="#231f20" stroke-width="0.45">People’s Liberation Army</text>
<text x="1021" y="1519" font-size="27.6" textLength="239" lengthAdjust="spacingAndGlyphs" stroke="#231f20" stroke-width="0.45">© GRAPHIC NEWS</text>
<text transform="translate(105.3,77) scale(0.68,1)" font-size="69" font-weight="bold" letter-spacing="6.55" stroke="#231f20" stroke-width="0.6">China defence spending to outstrip U.S.</text>
<text transform="translate(106.8,77) scale(0.68,1)" font-size="69" font-weight="bold" letter-spacing="6.55" stroke="#231f20" stroke-width="0.6">China defence spending to outstrip U.S.</text>
<text transform="translate(109.8,77) scale(0.68,1)" font-size="69" font-weight="bold" letter-spacing="6.55" stroke="#231f20" stroke-width="0.6">China defence spending to outstrip U.S.</text>
<text transform="translate(111.3,77) scale(0.68,1)" font-size="69" font-weight="bold" letter-spacing="6.55" stroke="#231f20" stroke-width="0.6">China defence spending to outstrip U.S.</text>
<text transform="translate(108.3,77) scale(0.68,1)" font-size="69" font-weight="bold" letter-spacing="6.55" stroke="#231f20" stroke-width="0.6">China defence spending to outstrip U.S.</text>
<text x="59.5" y="120.6" font-size="35.8" font-weight="bold" textLength="1156.5" lengthAdjust="spacingAndGlyphs" stroke="#231f20" stroke-width="0.5">U.S. military spending in 2012 exceeded that of the next 14 countries</text>
<text x="42.5" y="160.1" font-size="35.8" font-weight="bold" textLength="1192.5" lengthAdjust="spacingAndGlyphs" stroke="#231f20" stroke-width="0.5">combined, but China could overtake the Americans within 20 years if it</text>
<text x="44.5" y="199.6" font-size="35.8" font-weight="bold" textLength="1189" lengthAdjust="spacingAndGlyphs" stroke="#231f20" stroke-width="0.5">continues to expand at its current rate. Budget crises in the West have</text>
<text x="23.5" y="239.1" font-size="35.8" font-weight="bold" textLength="1228.5" lengthAdjust="spacingAndGlyphs" stroke="#231f20" stroke-width="0.5">already seen Asian defence spending as a whole overtake that of Europe</text>
<text x="18.5" y="291" font-size="35.6" font-weight="bold" textLength="154" lengthAdjust="spacingAndGlyphs" stroke="#231f20" stroke-width="0.5"><tspan font-size="35.6">D</tspan><tspan font-size="31">EFENCE</tspan></text>
<text x="180.5" y="291" font-size="35.6" font-weight="bold" textLength="166" lengthAdjust="spacingAndGlyphs" stroke="#231f20" stroke-width="0.5"><tspan font-size="35.6">S</tspan><tspan font-size="31">PENDING</tspan></text>
<text x="354.5" y="291" font-size="35.6" font-weight="bold" textLength="78" lengthAdjust="spacingAndGlyphs" stroke="#231f20" stroke-width="0.5">2012</text>
<text x="446.5" y="291" font-size="35" font-style="italic" textLength="159.5" lengthAdjust="spacingAndGlyphs" stroke="#231f20" stroke-width="0.45">($ billions)</text>
<text x="869.5" y="291" font-size="35.6" font-weight="bold" textLength="95" lengthAdjust="spacingAndGlyphs" stroke="#231f20" stroke-width="0.5"><tspan font-size="35.6">U</tspan><tspan font-size="31">NTIL</tspan></text>
<text x="972.2" y="291" font-size="35.6" font-weight="bold" textLength="79.6" lengthAdjust="spacingAndGlyphs" stroke="#231f20" stroke-width="0.5">2050</text>
</g></svg></body></html>
